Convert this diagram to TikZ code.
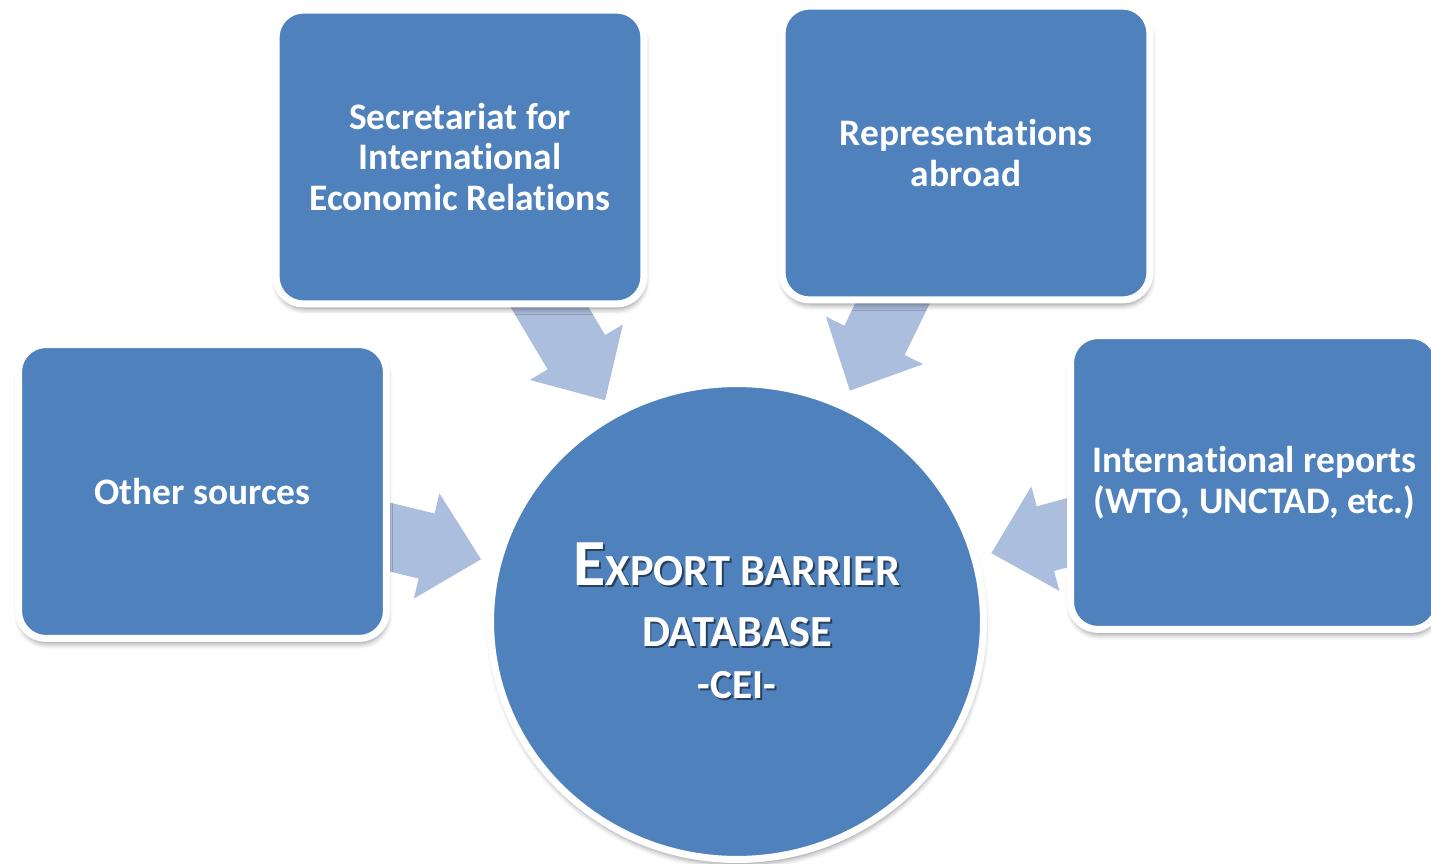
\documentclass[tikz,border=0pt]{standalone}
\usepackage{fontspec}
\setmainfont{Carlito}[Ligatures=NoCommon]
\usetikzlibrary{shapes.geometric, arrows.meta, backgrounds, shadows.blur}
\definecolor{cblue}{RGB}{79,129,189}
\definecolor{carrow}{RGB}{172,190,221}
\newcommand{\castshade}[1]{\leavevmode\rlap{\kern1pt\raisebox{-1.2pt}{\color{cblue!50!black}#1}}#1}

\tikzset{
  source/.style={rectangle, rounded corners=0.55cm, draw=white, line width=0.14cm,
    fill=cblue, text=white, minimum width=7.36cm, minimum height=5.88cm,
    align=center, font=\bfseries\fontsize{21.3pt}{23.3pt}\selectfont,
    blur shadow={shadow xshift=0.5pt, shadow yshift=-3pt, shadow blur radius=3pt, shadow opacity=40}},
  base/.style={ellipse, draw=white, line width=0.14cm, fill=cblue, text=white,
    minimum width=9.86cm, minimum height=9.52cm, inner sep=0pt,
    align=center, font=\bfseries\fontsize{25.3pt}{34.7pt}\selectfont,
    blur shadow={shadow xshift=0.5pt, shadow yshift=-3pt, shadow blur radius=3pt, shadow opacity=40}},
  feed/.style={carrow, line width=1.34cm, shorten <=-0.6cm, shorten >=0.28cm,
    -{Triangle[length=1.12cm, width=2.16cm, line width=1pt]}}
}

\begin{document}
\begin{tikzpicture}[x=0.02cm, y=-0.02cm]
\useasboundingbox (0,0) rectangle (1431,863);

% sources
\node[source] (sec) at (460,157) {Secretariat for\\International\\Economic Relations};
\node[source] (rep) at (966,153) {Representations\\abroad};
\node[source] (oth) at (202.5,491.5) {Other sources};
\node[source] (intl) at (1254.5,482.5) {International reports\\(WTO, UNCTAD, etc.)};

% database
\node[base] (db) at (737,621.5) {\castshade{{\fontsize{37.5pt}{34.7pt}\selectfont E}XPORT BARRIER}\\\castshade{DATABASE}\\[-5pt]{\fontsize{23.5pt}{20pt}\selectfont\castshade{-CEI-}}};

\begin{scope}[on background layer]
\draw[feed] (sec) -- (db);
\draw[feed] (rep) -- (db);
\draw[feed] (oth) -- (db);
\draw[feed] (intl) -- (db);
\end{scope}
\end{tikzpicture}
\end{document}
